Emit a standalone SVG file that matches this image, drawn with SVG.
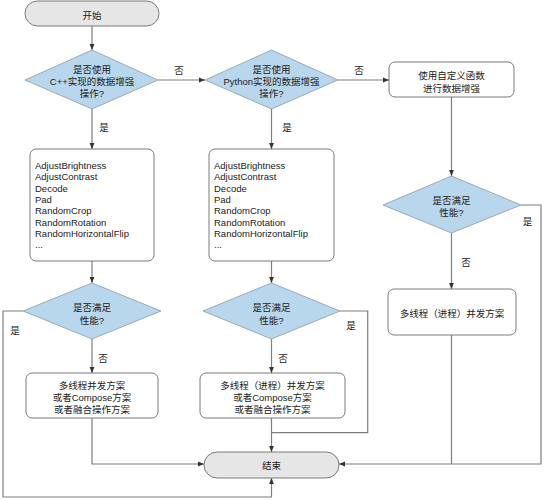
<svg xmlns="http://www.w3.org/2000/svg" width="544" height="500" viewBox="0 0 544 500">
<defs>
<marker id="arr" markerUnits="userSpaceOnUse" markerWidth="6" markerHeight="6" viewBox="0 0 6 6" refX="6" refY="3" orient="auto">
<path d="M0,0.6 L6,3 L0,5.4 Z" fill="#333"/>
</marker>
</defs>
<style>
text{font-family:"Liberation Sans","Noto Sans CJK SC",sans-serif;font-size:9.5px;fill:#222}
.c{text-anchor:middle}
.pill{fill:#e6e6e6;stroke:#7a7a7a;stroke-width:1}
.box{fill:#fff;stroke:#7a7a7a;stroke-width:1}
.dia{fill:#b9d7ec;stroke:#8a9aa6;stroke-width:0.8}
.ln{fill:none;stroke:#7f7f7f;stroke-width:1.2}
.ar{marker-end:url(#arr)}
</style>
<rect width="544" height="500" fill="#fff"/>
<g id="connectors">
<path class="ln ar" d="M92,26 V50"/>
<path class="ln ar" d="M158,80 H205"/>
<path class="ln ar" d="M338,80 H389"/>
<path class="ln ar" d="M92,109 V149"/>
<path class="ln ar" d="M271.5,109 V149"/>
<path class="ln ar" d="M451.5,97 V176"/>
<path class="ln ar" d="M92,261 V283"/>
<path class="ln ar" d="M271.5,261 V283"/>
<path class="ln ar" d="M92,339 V373"/>
<path class="ln ar" d="M271.5,339 V373"/>
<path class="ln ar" d="M451.5,233 V289"/>
<path class="ln ar" d="M92,418 V464 H204"/>
<path class="ln ar" d="M271.5,418 V452"/>
<path class="ln" d="M340,311 H367.7 V432.7 H271.5"/>
<path class="ln ar" d="M23,311 H3 V497 H271.5 V478"/>
<path class="ln" d="M451.5,335 V464"/>
<path class="ln ar" d="M521,205 H541 V464 H339"/>
<text class="c" x="179" y="74">否</text>
<text class="c" x="359" y="74">否</text>
<text class="c" x="104" y="131">是</text>
<text class="c" x="287" y="131">是</text>
<text class="c" x="527.5" y="224.5">是</text>
<text class="c" x="466" y="266">否</text>
<text class="c" x="15" y="333.5">是</text>
<text class="c" x="103" y="361.5">否</text>
<text class="c" x="351" y="328.5">是</text>
<text class="c" x="283" y="361.5">否</text>
</g>
<g id="start">
<rect class="pill" x="25" y="1" width="134" height="25" rx="12.5"/>
<text class="c" x="92" y="18.5">开始</text>
</g>
<g id="d1">
<polygon class="dia" points="92,50 158,80 92,109 25,80"/>
<text class="c" x="92" y="72.5">是否使用</text>
<text class="c" x="92" y="84.5">C++实现的数据增强</text>
<text class="c" x="92" y="97">操作?</text>
</g>
<g id="d2">
<polygon class="dia" points="271.5,50 338,80 271.5,109 205,80"/>
<text class="c" x="271.5" y="72.5">是否使用</text>
<text class="c" x="271.5" y="84.5">Python实现的数据增强</text>
<text class="c" x="271.5" y="97">操作?</text>
</g>
<g id="custom">
<rect class="box" x="389" y="62" width="125" height="35" rx="6"/>
<text class="c" x="451.5" y="78.5">使用自定义函数</text>
<text class="c" x="451.5" y="91.5">进行数据增强</text>
</g>
<g id="list1">
<rect class="box" x="30" y="149" width="124" height="112" rx="6"/>
<text x="35" y="169">AdjustBrightness</text>
<text x="35" y="180.3">AdjustContrast</text>
<text x="35" y="191.6">Decode</text>
<text x="35" y="202.9">Pad</text>
<text x="35" y="214.2">RandomCrop</text>
<text x="35" y="225.5">RandomRotation</text>
<text x="35" y="236.8">RandomHorizontalFlip</text>
<text x="35" y="248.1">...</text>
</g>
<g id="list2">
<rect class="box" x="209" y="149" width="125" height="112" rx="6"/>
<text x="214" y="169">AdjustBrightness</text>
<text x="214" y="180.3">AdjustContrast</text>
<text x="214" y="191.6">Decode</text>
<text x="214" y="202.9">Pad</text>
<text x="214" y="214.2">RandomCrop</text>
<text x="214" y="225.5">RandomRotation</text>
<text x="214" y="236.8">RandomHorizontalFlip</text>
<text x="214" y="248.1">...</text>
</g>
<g id="d3">
<polygon class="dia" points="451.5,176 521,205 451.5,233 383,205"/>
<text class="c" x="451.5" y="203.5">是否满足</text>
<text class="c" x="451.5" y="216">性能?</text>
</g>
<g id="d4">
<polygon class="dia" points="92,283 161,311 92,339 23,311"/>
<text class="c" x="92" y="311">是否满足</text>
<text class="c" x="92" y="323.5">性能?</text>
</g>
<g id="d5">
<polygon class="dia" points="271.5,283 340,311 271.5,339 203,311"/>
<text class="c" x="271.5" y="311">是否满足</text>
<text class="c" x="271.5" y="323.5">性能?</text>
</g>
<g id="mt">
<rect class="box" x="388" y="289" width="128" height="46" rx="6"/>
<text class="c" x="452" y="316.5">多线程（进程）并发方案</text>
</g>
<g id="box4">
<rect class="box" x="26" y="373" width="132" height="45" rx="6"/>
<text class="c" x="92" y="388.5">多线程并发方案</text>
<text class="c" x="92" y="400.5">或者Compose方案</text>
<text class="c" x="92" y="413">或者融合操作方案</text>
</g>
<g id="box5">
<rect class="box" x="200" y="373" width="145" height="45" rx="6"/>
<text class="c" x="272.5" y="388.5">多线程（进程）并发方案</text>
<text class="c" x="272.5" y="400.5">或者Compose方案</text>
<text class="c" x="272.5" y="413">或者融合操作方案</text>
</g>
<g id="end">
<rect class="pill" x="204" y="452" width="135" height="26" rx="13"/>
<text class="c" x="271.5" y="469">结束</text>
</g>
</svg>
